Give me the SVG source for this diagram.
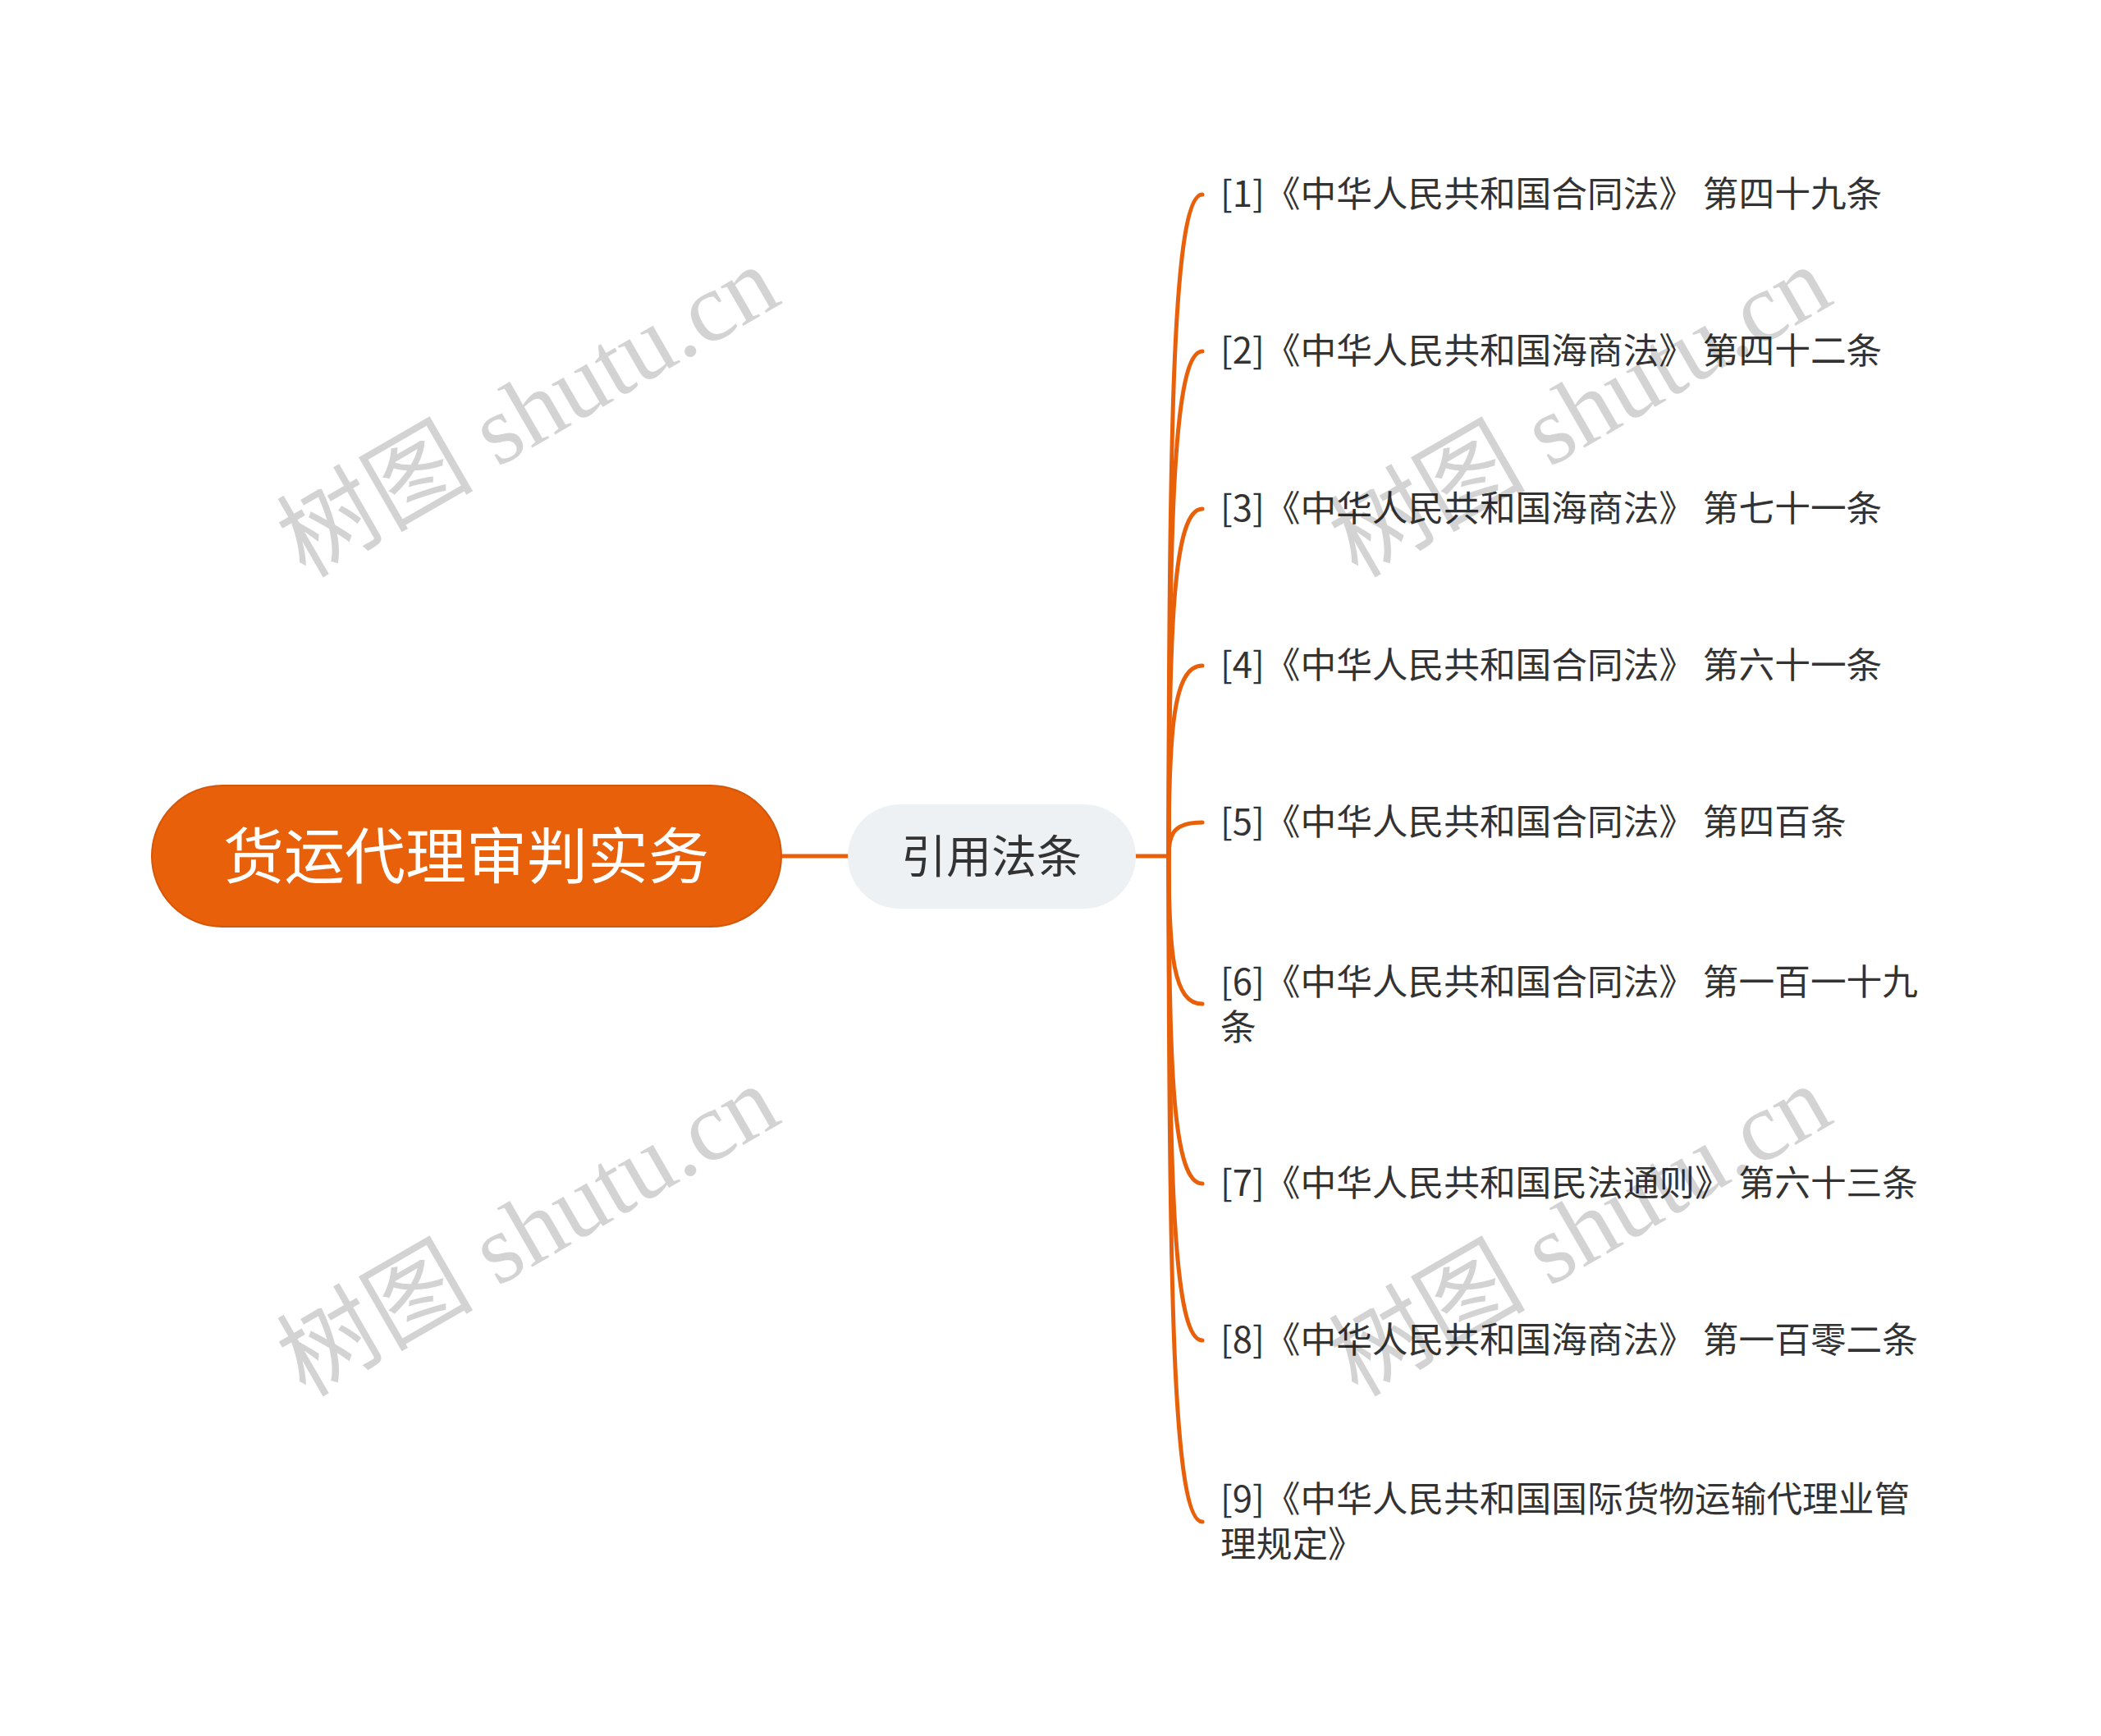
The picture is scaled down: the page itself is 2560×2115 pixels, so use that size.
<svg xmlns="http://www.w3.org/2000/svg" width="2560" height="2115" viewBox="0 0 2560 2115">
<style>
.wm{font-family:"Liberation Serif","Noto Sans CJK SC",serif;font-size:120px;fill:#000;opacity:0.17}
.leaf{font-family:"Noto Sans CJK SC","Noto Sans",sans-serif;font-size:43.7px;fill:#333333}
.edge{fill:none;stroke:#E8600A;stroke-width:5;stroke-linecap:round}
</style>
<rect width="2560" height="2115" fill="#ffffff"/>
<g id="connectors">
<path class="edge" d="M952 1043 L1033 1043" stroke-width="6"/>
<path class="edge" d="M1384 1043 L1424 1043" stroke-width="6"/>
<path class="edge" d="M1424 1043 C1424 503 1430 237 1465 237"/>
<path class="edge" d="M1424 1043 C1424 631 1430 428 1465 428"/>
<path class="edge" d="M1424 1043 C1424 760 1430 620 1465 620"/>
<path class="edge" d="M1424 1043 C1424 888 1430 811 1465 811"/>
<path class="edge" d="M1424 1043 C1424 1016 1430 1002 1465 1002"/>
<path class="edge" d="M1424 1043 C1424 1164 1430 1223 1465 1223"/>
<path class="edge" d="M1424 1043 C1424 1310 1430 1442 1465 1442"/>
<path class="edge" d="M1424 1043 C1424 1438 1430 1633 1465 1633"/>
<path class="edge" d="M1424 1043 C1424 1586 1430 1854 1465 1854"/>
</g>
<g id="root">
<rect x="185" y="957" width="767" height="172" rx="86" fill="#E8600A" stroke="#D4570A" stroke-width="2"/>
<text x="568" y="1070" text-anchor="middle" font-family="Noto Sans CJK SC, sans-serif" font-size="74" fill="#ffffff">货运代理审判实务</text>
</g>
<g id="child">
<rect x="1033" y="980" width="351" height="127" rx="63.5" fill="#EEF1F4"/>
<text x="1208" y="1063" text-anchor="middle" font-family="Noto Sans CJK SC, sans-serif" font-size="55" fill="#333333">引用法条</text>
</g>
<g id="leaf1"><text class="leaf" x="1487" y="252">[1]《中华人民共和国合同法》 第四十九条</text></g>
<g id="leaf2"><text class="leaf" x="1487" y="443">[2]《中华人民共和国海商法》 第四十二条</text></g>
<g id="leaf3"><text class="leaf" x="1487" y="635">[3]《中华人民共和国海商法》 第七十一条</text></g>
<g id="leaf4"><text class="leaf" x="1487" y="826">[4]《中华人民共和国合同法》 第六十一条</text></g>
<g id="leaf5"><text class="leaf" x="1487" y="1017">[5]《中华人民共和国合同法》 第四百条</text></g>
<g id="leaf6"><text class="leaf" x="1487" y="1212">[6]《中华人民共和国合同法》 第一百一十九<tspan x="1487" y="1267">条</tspan></text></g>
<g id="leaf7"><text class="leaf" x="1487" y="1457">[7]《中华人民共和国民法通则》 第六十三条</text></g>
<g id="leaf8"><text class="leaf" x="1487" y="1648">[8]《中华人民共和国海商法》 第一百零二条</text></g>
<g id="leaf9"><text class="leaf" x="1487" y="1842">[9]《中华人民共和国国际货物运输代理业管<tspan x="1487" y="1897">理规定》</tspan></text></g>
<g id="watermarks">
<text class="wm" x="372" y="705" transform="rotate(-30 372 705)">树图 shutu.cn</text>
<text class="wm" x="1654" y="705" transform="rotate(-30 1654 705)">树图 shutu.cn</text>
<text class="wm" x="372" y="1703" transform="rotate(-30 372 1703)">树图 shutu.cn</text>
<text class="wm" x="1654" y="1703" transform="rotate(-30 1654 1703)">树图 shutu.cn</text>
</g>
</svg>
